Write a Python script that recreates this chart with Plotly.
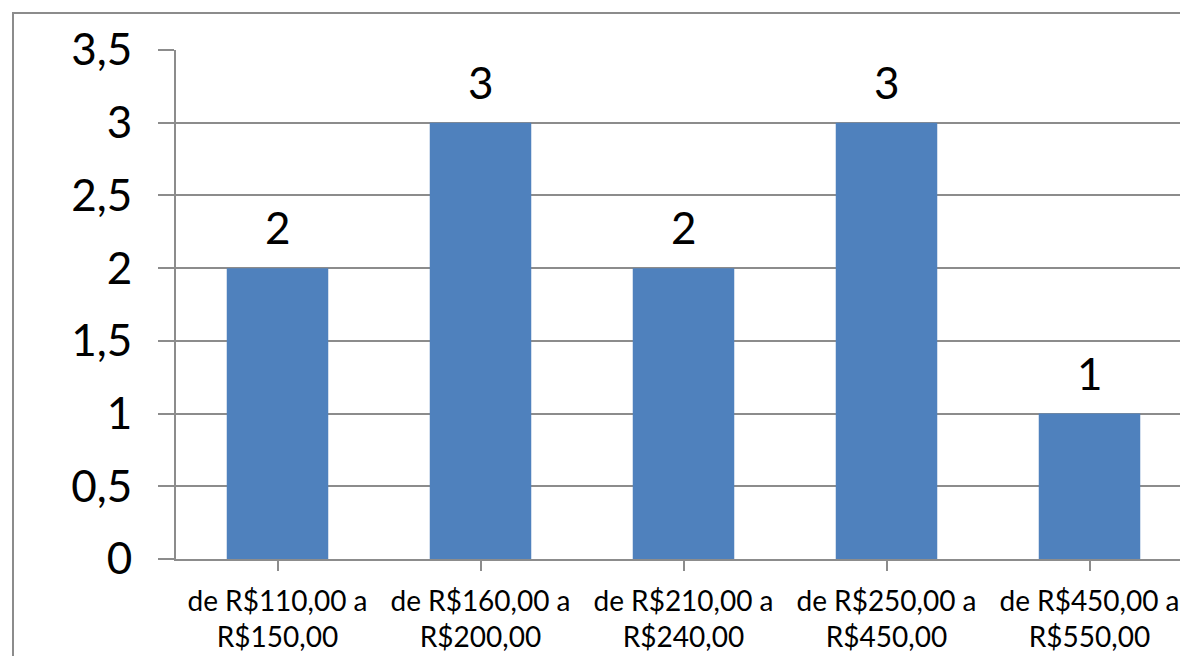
import plotly.graph_objects as go

categories = ["de R$110,00 a<br>R$150,00", "de R$160,00 a<br>R$200,00",
              "de R$210,00 a<br>R$240,00", "de R$250,00 a<br>R$450,00",
              "de R$450,00 a<br>R$550,00"]
values = [2, 3, 2, 3, 1]
y_ticks = [0, 0.5, 1, 1.5, 2, 2.5, 3, 3.5]

FONT = "Lato"
GRID = "#8c8c8c"

fig = go.Figure()
fig.add_trace(go.Bar(
    x=list(range(len(categories))), y=values,
    marker=dict(color="#4f81bd", line=dict(width=0)),
    width=0.5,
))

for i, v in enumerate(values):
    fig.add_annotation(x=i, y=v, text=str(v), showarrow=False,
                       yanchor="bottom", yshift=13,
                       font=dict(family=FONT, size=44, color="black"))

L, T, W, H = 168, 42, 1015, 509
fig.update_layout(
    width=1188, height=656,
    margin=dict(l=L, r=1188 - L - W, t=T, b=656 - T - H),
    paper_bgcolor="white", plot_bgcolor="white",
    separators=",.",
    showlegend=False,
    font=dict(family=FONT, color="black"),
    xaxis=dict(
        range=[-0.5, 4.5],
        tickmode="array", tickvals=list(range(len(categories))), ticktext=categories,
        tickfont=dict(family=FONT, size=28, color="black"),
        showgrid=False, zeroline=False,
        showline=True, linecolor=GRID, linewidth=2,
        ticks="outside", ticklen=10, tickcolor=GRID, tickwidth=2,
        tickson="boundaries",
        ticklabelstandoff=6,
    ),
    yaxis=dict(
        range=[0, 3.5], tickvals=y_ticks,
        tickfont=dict(family=FONT, size=44, color="black"),
        showgrid=True, gridcolor=GRID, gridwidth=2,
        zeroline=False,
        showline=True, linecolor=GRID, linewidth=2,
        ticks="outside", ticklen=16, tickcolor=GRID, tickwidth=2,
        ticklabelstandoff=17,
    ),
    bargap=0.5,
)

fig.add_shape(type="rect", xref="paper", yref="paper",
              x0=(5 - L) / W, x1=1.2, y0=-0.5, y1=(T + H - 5) / H,
              line=dict(color=GRID, width=2), fillcolor="rgba(0,0,0,0)", layer="below")

fig.write_html("out.html")
